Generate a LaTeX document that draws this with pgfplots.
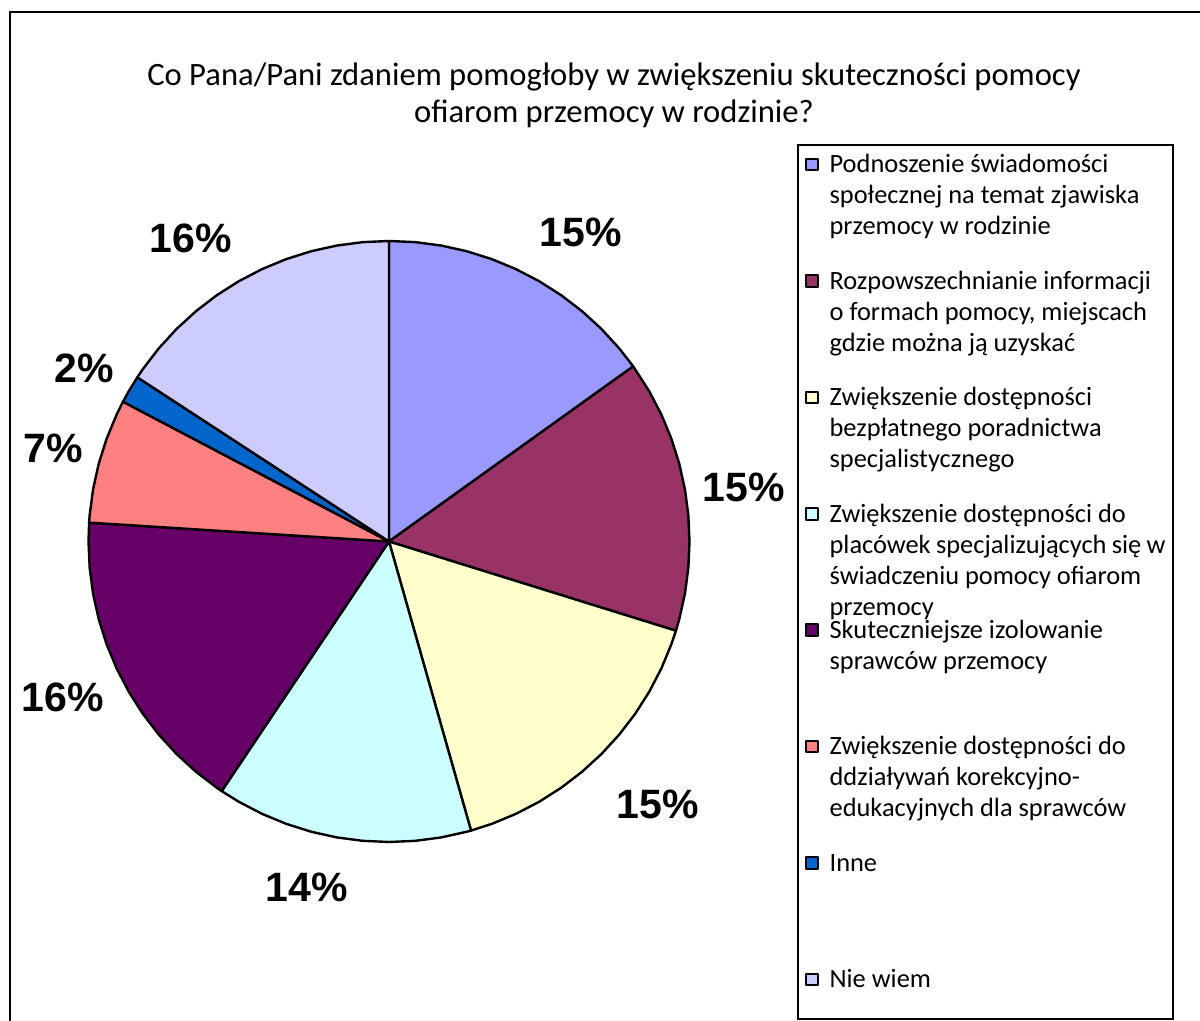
\documentclass[border=0pt]{standalone}
\usepackage{fontspec}
\setmainfont{Carlito}
\newfontfamily\labfont{Liberation Sans}
\usepackage{pgfplots}
\pgfplotsset{compat=1.18}
\definecolor{c1}{HTML}{9999FF}
\definecolor{c2}{HTML}{993366}
\definecolor{c3}{HTML}{FFFFCC}
\definecolor{c4}{HTML}{CCFFFF}
\definecolor{c5}{HTML}{660066}
\definecolor{c6}{HTML}{FF8080}
\definecolor{c7}{HTML}{0066CC}
\definecolor{c8}{HTML}{CCCCFF}
\newcommand{\lentry}[2]{\parbox[t][#1][t]{168pt}{\rule{0pt}{14pt}#2}}
% shares (%): 15.1, 14.7, 15.8, 13.8, 16.6, 6.7, 1.5, 15.8
% slice boundaries (polar angle, deg) = 90 - 3.6 * cumulative share
\begin{document}
\begin{tikzpicture}
\useasboundingbox (0,0) rectangle (600pt,510.5pt);
\draw[line width=1pt] (5pt,-20pt) rectangle (620pt,504.5pt);
\node[align=center, font=\fontsize{16.3}{18.5}\selectfont] at (307pt,462.75pt)
  {Co Pana/Pani zdaniem pomogłoby w zwiększeniu skuteczności pomocy\\ofiarom przemocy w rodzinie?};
\begin{axis}[
  at={(194.5pt,239.75pt)}, anchor=center,
  width=300.5pt, height=300.5pt, scale only axis,
  xmin=-1, xmax=1, ymin=-1, ymax=1,
  hide axis, clip=false,
  legend style={
    at={(1.1789,1.1614)}, anchor=north west,
    draw=black, line width=1pt, fill=white,
    inner xsep=3.5pt, inner ysep=0pt,
    cells={anchor=base west},
    nodes={inner sep=0pt, text depth=},
    row sep=0pt, column sep=5.5pt,
    font=\fontsize{13.2}{15.5}\selectfont,
  },
  legend image code/.code={\draw[#1, draw=black, line width=1pt] (0pt,1.3pt) rectangle (5.8pt,7.1pt);},
]
\addplot[data cs=polar, fill=c1, draw=black, line width=1.2pt, line join=round] coordinates {
 (0,0) (90,1) (85,1) (80,1) (75,1) (70,1) (65,1) (60,1) (55,1) (50,1) (45,1) (40,1) (35.64,1) (0,0)};
\addlegendentry{\lentry{58.2pt}{Podnoszenie świadomości\newline społecznej na temat zjawiska\newline przemocy w rodzinie}}
\addplot[data cs=polar, fill=c2, draw=black, line width=1.2pt, line join=round] coordinates {
 (0,0) (35.64,1) (30,1) (25,1) (20,1) (15,1) (10,1) (5,1) (0,1) (-5,1) (-10,1) (-15,1) (-17.28,1) (0,0)};
\addlegendentry{\lentry{58.2pt}{Rozpowszechnianie informacji\newline o formach pomocy, miejscach\newline gdzie można ją uzyskać}}
\addplot[data cs=polar, fill=c3, draw=black, line width=1.2pt, line join=round] coordinates {
 (0,0) (-17.28,1) (-20,1) (-25,1) (-30,1) (-35,1) (-40,1) (-45,1) (-50,1) (-55,1) (-60,1) (-65,1) (-70,1) (-74.16,1) (0,0)};
\addlegendentry{\lentry{58.2pt}{Zwiększenie dostępności\newline bezpłatnego poradnictwa\newline specjalistycznego}}
\addplot[data cs=polar, fill=c4, draw=black, line width=1.2pt, line join=round] coordinates {
 (0,0) (-74.16,1) (-75,1) (-80,1) (-85,1) (-90,1) (-95,1) (-100,1) (-105,1) (-110,1) (-115,1) (-120,1) (-123.84,1) (0,0)};
\addlegendentry{\lentry{58.2pt}{Zwiększenie dostępności do\newline placówek specjalizujących się w\newline świadczeniu pomocy ofiarom\newline przemocy}}
\addplot[data cs=polar, fill=c5, draw=black, line width=1.2pt, line join=round] coordinates {
 (0,0) (-123.84,1) (-125,1) (-130,1) (-135,1) (-140,1) (-145,1) (-150,1) (-155,1) (-160,1) (-165,1) (-170,1) (-175,1) (-180,1) (-183.6,1) (0,0)};
\addlegendentry{\lentry{58.2pt}{Skuteczniejsze izolowanie\newline sprawców przemocy}}
\addplot[data cs=polar, fill=c6, draw=black, line width=1.2pt, line join=round] coordinates {
 (0,0) (-183.6,1) (-185,1) (-190,1) (-195,1) (-200,1) (-205,1) (-207.72,1) (0,0)};
\addlegendentry{\lentry{58.2pt}{Zwiększenie dostępności do\newline ddziaływań korekcyjno-\newline edukacyjnych dla sprawców}}
\addplot[data cs=polar, fill=c7, draw=black, line width=1.2pt, line join=round] coordinates {
 (0,0) (-207.72,1) (-210,1) (-213.12,1) (0,0)};
\addlegendentry{\lentry{58.2pt}{Inne}}
\addplot[data cs=polar, fill=c8, draw=black, line width=1.2pt, line join=round] coordinates {
 (0,0) (-213.12,1) (-215,1) (-220,1) (-225,1) (-230,1) (-235,1) (-240,1) (-245,1) (-250,1) (-255,1) (-260,1) (-265,1) (-270,1) (0,0)};
\addlegendentry{\lentry{29.6pt}{Nie wiem}}
\end{axis}
\begin{scope}[every node/.style={font=\labfont\bfseries\fontsize{20.5}{24}\selectfont}]
\node at (290.5pt,394.5pt) {15\%};
\node at (372pt,267pt) {15\%};
\node at (329pt,108.5pt) {15\%};
\node at (153.5pt,67pt) {14\%};
\node at (31.5pt,162pt) {16\%};
\node at (26.5pt,286.5pt) {7\%};
\node at (42pt,326.5pt) {2\%};
\node at (95.5pt,391.5pt) {16\%};
\end{scope}
\end{tikzpicture}
\end{document}
